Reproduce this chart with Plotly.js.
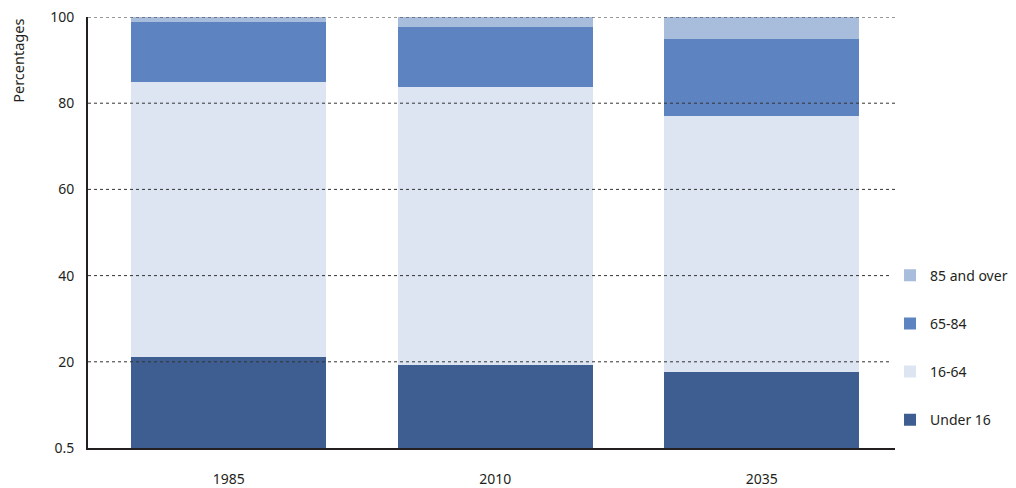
<!DOCTYPE html>
<html><head><meta charset="utf-8">
<script src="https://cdn.plot.ly/plotly-3.0.1.min.js"></script>
<style>body{margin:0;background:#fff}#c{width:1016px;height:488px}</style>
</head><body><div id="c"></div>
<script>
const years = ["1985", "2010", "2035"];
const under16 = [21.1, 19.3, 17.6];
const age16to64 = [63.8, 64.4, 59.4];
const age65to84 = [14.0, 13.9, 17.8];
const age85plus = [1.1, 2.4, 5.2];
const seriesNames = ["Under 16", "16-64", "65-84", "85 and over"];
const seriesColors = ["#3e5e91", "#dce5f1", "#5d83c1", "#a8bcdc"];
const yTickVals = [0, 20, 40, 60, 80, 100];
const yTickText = ["0.5", "20", "40", "60", "80", "100"];

const seriesData = [under16, age16to64, age65to84, age85plus];
const traces = seriesData.map((vals, i) => ({
  type: "bar", x: years, y: vals, name: seriesNames[i],
  marker: {color: seriesColors[i], line: {width: 0}},
  legendgroup: "g" + i, legendrank: 1000 - i, hoverinfo: "skip"
}));

const gridShapes = yTickVals.filter(v => v > 0).map(v => ({
  type: "line", xref: "paper", yref: "y", x0: 0, x1: 1, y0: v, y1: v,
  line: {color: "#333", width: 1, dash: "dot"}, layer: "above"
}));

const layout = {
  width: 1016, height: 488,
  margin: {l: 88, r: 121, t: 17, b: 40, autoexpand: false},
  barmode: "stack", bargap: 0.27,
  paper_bgcolor: "#fff", plot_bgcolor: "#fff",
  font: {family: "Noto Sans, Open Sans, sans-serif", size: 14, color: "#231f20"},
  xaxis: {type: "category", range: [-0.528, 2.5], showgrid: false, zeroline: false,
    showline: true, linecolor: "#231f20", linewidth: 2, ticks: "", ticklabelstandoff: 17,
    tickfont: {size: 14}, fixedrange: true},
  yaxis: {range: [0, 100], tickvals: yTickVals, ticktext: yTickText, showgrid: false,
    zeroline: false, showline: true, linecolor: "#231f20", linewidth: 2, ticks: "",
    ticklabelstandoff: 9, tickfont: {size: 14}, fixedrange: true},
  shapes: gridShapes,
  annotations: [{text: "Percentages", xref: "paper", yref: "paper", x: -0.087, y: 1.0,
    xanchor: "center", yanchor: "top", textangle: -90, showarrow: false, font: {size: 14.5}}],
  legend: {xref: "container", yref: "container", x: 0.876, xanchor: "left", y: 0.468, yanchor: "top",
    traceorder: "grouped", tracegroupgap: 27, font: {size: 14}, itemclick: false, itemdoubleclick: false},
  showlegend: true
};
Plotly.newPlot("c", traces, layout, {displayModeBar: false, staticPlot: true});
</script></body></html>
